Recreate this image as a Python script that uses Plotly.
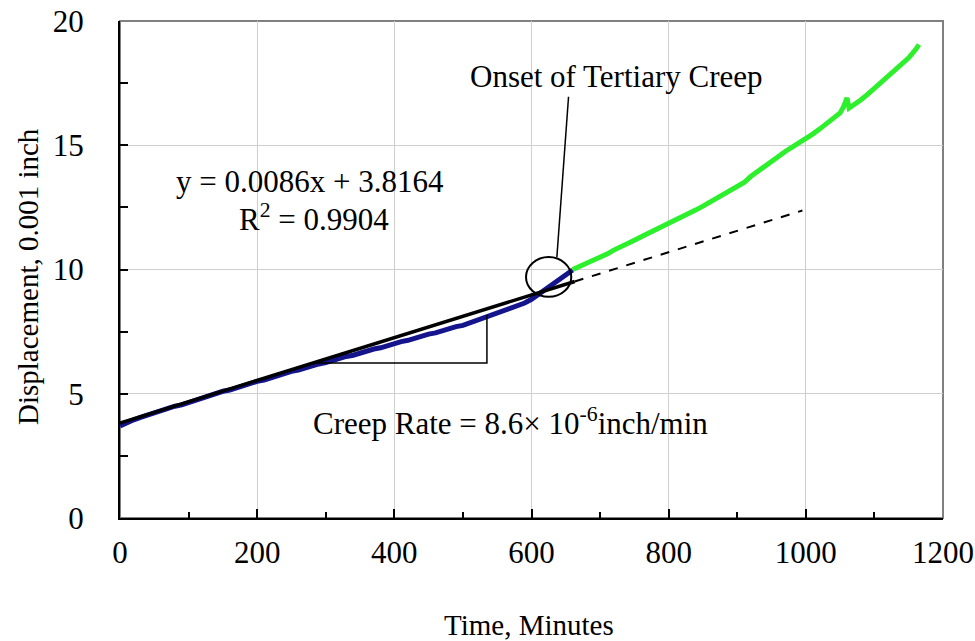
import plotly.graph_objects as go

# ---- data ----
blue_t = list(range(0, 670, 10))
blue_d = [3.70, 3.85, 3.95, 4.05, 4.15, 4.25, 4.30, 4.40, 4.50, 4.55,
          4.65, 4.75, 4.85, 4.90, 5.00, 5.10, 5.15, 5.25, 5.35, 5.40,
          5.50, 5.55, 5.65, 5.70, 5.80, 5.90, 5.95, 6.05, 6.10, 6.20,
          6.25, 6.35, 6.40, 6.50, 6.55, 6.65, 6.70, 6.80, 6.85, 6.95,
          7.00, 7.10, 7.15, 7.25, 7.30, 7.40, 7.45, 7.55, 7.60, 7.70,
          7.75, 7.85, 7.90, 8.00, 8.10, 8.20, 8.30, 8.40, 8.50, 8.65,
          8.80, 9.00, 9.20, 9.40, 9.60, 9.80, 9.98]

green_t = [660, 670, 680, 690, 700, 710, 720, 730, 740, 750, 760, 770, 780, 790,
           800, 810, 820, 830, 840, 850, 860, 870, 880, 890, 900, 910, 920, 930,
           940, 950, 960, 970, 980, 990, 1000, 1010, 1020, 1030, 1040, 1050, 1055,
           1060, 1063, 1070, 1080, 1090, 1100, 1110, 1120, 1130, 1140, 1150, 1160, 1165]
green_d = [10.00, 10.12, 10.25, 10.38, 10.50, 10.62, 10.78, 10.90, 11.05, 11.18,
           11.32, 11.45, 11.58, 11.72, 11.85, 11.98, 12.12, 12.25, 12.40, 12.55,
           12.70, 12.85, 13.00, 13.15, 13.30, 13.50, 13.75, 13.95, 14.20, 14.40,
           14.58, 14.75, 14.92, 15.08, 15.25, 15.45, 15.65, 15.85, 16.05, 16.30,
           16.55, 16.90, 16.50, 16.62, 16.82, 17.05, 17.30, 17.52, 17.75, 18.00,
           18.25, 18.52, 18.85, 19.05]

slope = 0.0086
intercept = 3.8164
fit_solid_t = [0, 663]
fit_dash_t = [663, 995]

tri_x = [287, 535, 535]
tri_y = [6.24, 6.24, 8.17]

callout_x = [637, 654]
callout_y = [10.5, 16.95]

x_ticks = [0, 200, 400, 600, 800, 1000, 1200]
y_ticks = [0, 5, 10, 15, 20]

FONT = "Liberation Serif, Times New Roman, serif"

# plot-area geometry in pixels (for paper-coordinate text placement)
L, R, T, B = 120, 943, 21, 518
W, H = R - L, B - T


def px(xp):
    return (xp - L) / W


def py(yp):
    return (B - yp) / H


fig = go.Figure()

fig.add_trace(go.Scatter(x=blue_t, y=blue_d, mode="lines",
                         line=dict(color="#14148c", width=5), hoverinfo="skip"))
fig.add_trace(go.Scatter(x=green_t, y=green_d, mode="lines",
                         line=dict(color="#2cf02c", width=5), hoverinfo="skip"))
fig.add_trace(go.Scatter(x=fit_solid_t, y=[slope * t + intercept for t in fit_solid_t],
                         mode="lines", line=dict(color="black", width=3.5), hoverinfo="skip"))
fig.add_trace(go.Scatter(x=fit_dash_t, y=[slope * t + intercept for t in fit_dash_t],
                         mode="lines", line=dict(color="black", width=2, dash="dash"),
                         hoverinfo="skip"))
fig.add_trace(go.Scatter(x=tri_x, y=tri_y, mode="lines",
                         line=dict(color="black", width=1.5), hoverinfo="skip"))
fig.add_trace(go.Scatter(x=callout_x, y=callout_y, mode="lines",
                         line=dict(color="black", width=1.5), hoverinfo="skip"))

# circle around onset
fig.add_shape(type="circle", xref="x", yref="y", x0=592, x1=658, y0=8.9, y1=10.5,
              line=dict(color="black", width=2))
# gray frame on top/right
fig.add_shape(type="rect", xref="paper", yref="paper", x0=0, x1=1, y0=0, y1=1,
              line=dict(color="#808080", width=2), layer="below")


def label(text, xp, yp, size=31, **kw):
    fig.add_annotation(text=text, x=px(xp), y=py(yp), xref="paper", yref="paper",
                       xanchor="center", yanchor="middle", showarrow=False,
                       font=dict(family=FONT, size=size, color="black"), **kw)


label("Onset of Tertiary Creep", 616, 77)
label("y = 0.0086x + 3.8164", 310, 181)
label("R<sup>2</sup> = 0.9904", 314, 217)
label("Creep Rate = 8.6× 10<sup>-6</sup>inch/min", 510, 421)
# axis titles
label("Time, Minutes", 529, 625, size=29)
label("Displacement, 0.001 inch", 28, 277, size=29, textangle=-90)

fig.update_layout(
    width=975, height=641,
    margin=dict(l=L, r=975 - R, t=T, b=641 - B),
    paper_bgcolor="white", plot_bgcolor="white",
    showlegend=False,
    font=dict(family=FONT, color="black"),
)
fig.update_xaxes(
    range=[0, 1200], tickvals=x_ticks, ticks="inside", ticklen=9, tickwidth=2,
    tickcolor="black", showline=True, linecolor="black", linewidth=2,
    showgrid=True, gridcolor="#cfcfcf", gridwidth=1, zeroline=False,
    tickfont=dict(family=FONT, size=31), ticklabelstandoff=6, automargin=False,
    minor=dict(ticks="inside", dtick=100, ticklen=6, tickwidth=2, tickcolor="black", showgrid=False),
)
fig.update_yaxes(
    range=[0, 20], tickvals=y_ticks, ticks="inside", ticklen=8, tickwidth=2,
    tickcolor="black", showline=True, linecolor="black", linewidth=2,
    showgrid=True, gridcolor="#cfcfcf", gridwidth=1, zeroline=False,
    tickfont=dict(family=FONT, size=31), ticklabelstandoff=28, automargin=False,
    minor=dict(ticks="inside", dtick=2.5, ticklen=8, tickwidth=2, tickcolor="black", showgrid=False),
)

fig.write_html("out.html")
